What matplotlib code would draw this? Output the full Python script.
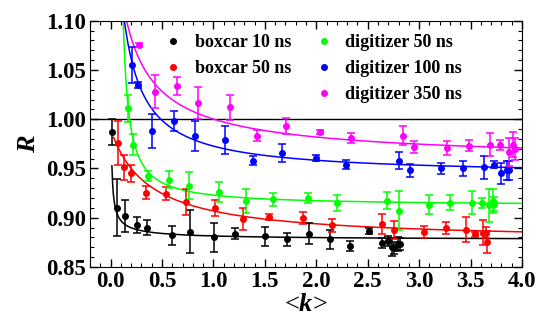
import numpy as np
import matplotlib
matplotlib.use('Agg')
import matplotlib.pyplot as plt
from matplotlib.lines import Line2D
from matplotlib.ticker import MultipleLocator

# boxcar 10 ns
k_b10 = [0.01, 0.06, 0.137, 0.254, 0.355, 0.60, 0.77, 1.008, 1.21, 1.50, 1.715, 1.934,
         2.13, 2.33, 2.51, 2.64, 2.70, 2.733, 2.76, 2.79, 2.81]
R_b10 = [0.987, 0.910, 0.902, 0.893, 0.890, 0.882, 0.886, 0.880, 0.884, 0.881, 0.878, 0.884,
         0.878, 0.871, 0.887, 0.874, 0.876, 0.870, 0.869, 0.873, 0.873]
e_b10 = [0.013, 0.029, 0.016, 0.008, 0.008, 0.010, 0.022, 0.015, 0.006, 0.010, 0.007, 0.011,
         0.010, 0.005, 0.003, 0.005, 0.005, 0.009, 0.006, 0.007, 0.006]

# boxcar 50 ns
k_b50 = [0.075, 0.134, 0.196, 0.34, 0.535, 0.734, 1.02, 1.285, 1.543, 1.872, 2.156, 2.635,
         2.76, 3.043, 3.258, 3.454, 3.545, 3.623, 3.65, 3.66]
R_b50 = [0.976, 0.951, 0.945, 0.9255, 0.9245, 0.916, 0.910, 0.8985, 0.901, 0.8995, 0.8924, 0.894,
         0.8877, 0.8856, 0.890, 0.888, 0.883, 0.885, 0.885, 0.8756]
e_b50 = [0.022, 0.013, 0.009, 0.0065, 0.0065, 0.013, 0.008, 0.011, 0.003, 0.006, 0.0065, 0.010,
         0.009, 0.0063, 0.006, 0.0125, 0.003, 0.013, 0.0055, 0.011]

# digitizer 50 ns
k_d50 = [0.173, 0.222, 0.365, 0.564, 0.766, 1.054, 1.32, 1.58, 1.915, 2.2, 2.69, 2.80,
         3.095, 3.30, 3.51, 3.61, 3.68, 3.72, 3.73]
R_d50 = [1.011, 0.974, 0.942, 0.9386, 0.9326, 0.9264, 0.917, 0.9187, 0.920, 0.9147, 0.9174, 0.9073,
         0.9133, 0.9153, 0.9153, 0.9153, 0.9126, 0.917, 0.9136]
e_d50 = [0.0135, 0.0105, 0.005, 0.0085, 0.014, 0.010, 0.0125, 0.0065, 0.0055, 0.008, 0.009, 0.020,
         0.010, 0.0075, 0.012, 0.005, 0.017, 0.012, 0.007]

# digitizer 100 ns
k_d100 = [0.209, 0.264, 0.404, 0.616, 0.822, 1.112, 1.38, 1.666, 2.0, 2.29, 2.80, 2.91,
          3.21, 3.43, 3.63, 3.73, 3.80, 3.85, 3.87]
R_d100 = [1.055, 1.035, 0.988, 0.998, 0.983, 0.979, 0.958, 0.966, 0.961, 0.954, 0.958, 0.948,
          0.950, 0.950, 0.951, 0.954, 0.945, 0.948, 0.948]
e_d100 = [0.018, 0.003, 0.0175, 0.010, 0.015, 0.014, 0.0047, 0.009, 0.003, 0.0045, 0.009, 0.0065,
          0.006, 0.0075, 0.012, 0.004, 0.011, 0.010, 0.010]

# digitizer 350 ns
k_d350 = [0.28, 0.433, 0.643, 0.849, 1.157, 1.422, 1.71, 2.04, 2.34, 2.84, 2.95, 3.27,
          3.48, 3.69, 3.79, 3.87, 3.91, 3.93]
R_d350 = [1.0755, 1.028, 1.034, 1.0165, 1.012, 0.9834, 0.9928, 0.987, 0.9807, 0.9834, 0.9716, 0.971,
          0.9733, 0.9743, 0.974, 0.967, 0.9743, 0.970]
e_d350 = [0.002, 0.017, 0.009, 0.016, 0.0125, 0.006, 0.008, 0.0025, 0.005, 0.010, 0.006, 0.007,
          0.006, 0.012, 0.005, 0.014, 0.013, 0.011]

# fit curves R = a + b*(k+d)^-c, drawn from k_start to 4
fits = {
    'boxcar 10 ns': (0.877, 0.0045, 0.0, 0.65, 0.013),
    'boxcar 50 ns': (0.876, 0.0423, 0.371, 1.0, 0.03),
    'digitizer 50 ns': (0.912, 0.0102, -0.069, 1.0, 0.12),
    'digitizer 100 ns': (0.943, 0.0317, 0.0677, 1.0, 0.12),
    'digitizer 350 ns': (0.955, 0.0487, 0.1, 0.8, 0.1),
}

series = [
    ('boxcar 10 ns', k_b10, R_b10, e_b10, 'black'),
    ('boxcar 50 ns', k_b50, R_b50, e_b50, '#ff0000'),
    ('digitizer 50 ns', k_d50, R_d50, e_d50, '#00ff00'),
    ('digitizer 100 ns', k_d100, R_d100, e_d100, '#0000ff'),
    ('digitizer 350 ns', k_d350, R_d350, e_d350, '#ff00ff'),
]

plt.rcParams['font.family'] = 'Liberation Serif'
plt.rcParams['font.weight'] = 'bold'
plt.rcParams['mathtext.fontset'] = 'custom'
plt.rcParams['mathtext.it'] = 'Liberation Serif:italic'
plt.rcParams['mathtext.rm'] = 'Liberation Serif'

fig = plt.figure(figsize=(5.48, 3.2), dpi=100)
ax = fig.add_axes([90 / 548, 1 - 267 / 320, (522 - 90) / 548, (267 - 20.7) / 320])

ax.axhline(1.0, color='black', lw=1.0, zorder=1)

handles = []
for name, k, R, e, col in series:
    ax.errorbar(k, R, yerr=e, fmt='o', ms=4, color=col, ecolor=col, elinewidth=1.1,
                capsize=3, capthick=1.1, zorder=3)
    a, b, d, c, k0 = fits[name]
    kk = np.linspace(k0, 4.0, 600)
    ax.plot(kk, a + b * (kk + d) ** (-c), color=col, lw=1.1, zorder=2)
    handles.append(Line2D([], [], ls='none', marker='o', ms=4, color=col, label=name))

ax.set_xlim(-0.2, 4.0)
ax.set_ylim(0.85, 1.10)
ax.xaxis.set_major_locator(MultipleLocator(0.5))
ax.xaxis.set_minor_locator(MultipleLocator(0.1))
ax.yaxis.set_major_locator(MultipleLocator(0.05))
ax.yaxis.set_minor_locator(MultipleLocator(0.01))
ax.xaxis.set_major_formatter(plt.FormatStrFormatter('%.1f'))
ax.yaxis.set_major_formatter(plt.FormatStrFormatter('%.2f'))
ax.tick_params(which='both', direction='in', top=True, right=True, labelsize=16.5)
ax.tick_params(which='major', length=6, width=1, pad=3)
ax.tick_params(which='minor', length=3, width=0.8)

ax.set_xlabel('<$k$>', fontsize=19, labelpad=1)
ax.set_ylabel('$R$', fontsize=19, labelpad=4)

leg_kw = dict(frameon=False, fontsize=13, handlelength=1.0, handletextpad=0.7,
              labelspacing=0.5, borderaxespad=0)
leg1 = ax.legend(handles=handles[:2], loc='upper left', bbox_to_anchor=(0.155, 0.975), **leg_kw)
ax.add_artist(leg1)
ax.legend(handles=handles[2:], loc='upper left', bbox_to_anchor=(0.503, 0.975), **leg_kw)

fig.savefig('out.png', dpi=100)
